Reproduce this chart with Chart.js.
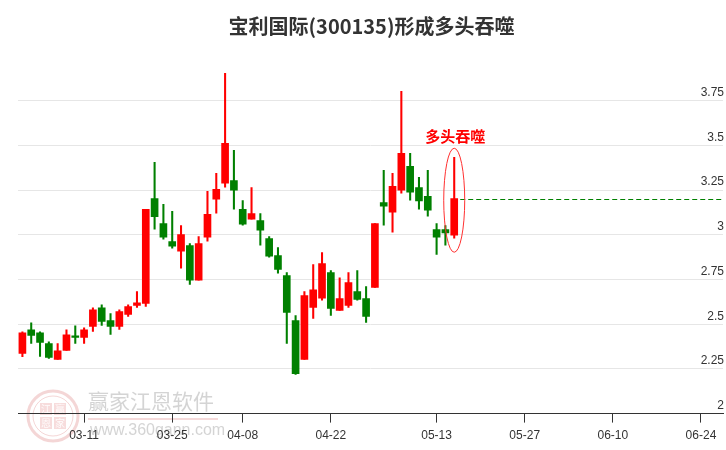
<!DOCTYPE html>
<html>
<head>
<meta charset="utf-8">
<script src="https://cdn.jsdelivr.net/npm/chart.js@4.4.0/dist/chart.umd.min.js"></script>
<style>
  html, body { margin: 0; padding: 0; background: #fff; }
  #wrap { width: 726px; height: 450px; }
</style>
</head>
<body>
<div id="wrap"><canvas id="kChart" width="726" height="450"></canvas></div>
<script>
// trading days (the last part is the empty future range of the axis)
const dates = [
    '02-29', '03-01', '03-04', '03-05', '03-06', '03-07', '03-08', '03-11', '03-12', '03-13',
    '03-14', '03-15', '03-18', '03-19', '03-20', '03-21', '03-22', '03-25', '03-26', '03-27',
    '03-28', '03-29', '04-01', '04-02', '04-03', '04-08', '04-09', '04-10', '04-11', '04-12',
    '04-15', '04-16', '04-17', '04-18', '04-19', '04-22', '04-23', '04-24', '04-25', '04-26',
    '04-29', '04-30', '05-06', '05-07', '05-08', '05-09', '05-10', '05-13', '05-14', '05-15',
    '05-16', '05-17', '05-20', '05-21', '05-22', '05-23', '05-24', '05-27', '05-28', '05-29',
    '05-30', '05-31', '06-03', '06-04', '06-05', '06-06', '06-07', '06-10', '06-11', '06-12',
    '06-13', '06-14', '06-17', '06-18', '06-19', '06-20', '06-21', '06-24', '06-25', '06-26'
];
const tickLabels = ['03-11', '03-25', '04-08', '04-22', '05-13', '05-27', '06-10', '06-24'];

const openVals = [
    2.336, 2.469, 2.452, 2.391, 2.303, 2.353, 2.430, 2.426, 2.488, 2.592,
    2.520, 2.488, 2.555, 2.605, 2.617, 3.203, 3.063, 2.962, 2.908, 2.940,
    2.746, 2.987, 3.200, 3.289, 3.304, 3.142, 3.088, 3.080, 2.979, 2.884,
    2.772, 2.520, 2.303, 2.594, 2.645, 2.789, 2.577, 2.605, 2.682, 2.643,
    2.706, 3.181, 3.127, 3.250, 3.383, 3.265, 3.215, 3.030, 3.030, 2.998
];
const highVals = [
    2.458, 2.508, 2.458, 2.402, 2.391, 2.469, 2.491, 2.480, 2.592, 2.609,
    2.559, 2.581, 2.609, 2.682, 3.142, 3.405, 3.170, 3.131, 3.052, 2.951,
    2.990, 3.243, 3.344, 3.904, 3.472, 3.192, 3.265, 3.119, 2.990, 2.929,
    2.789, 2.548, 2.682, 2.833, 2.901, 2.800, 2.760, 2.789, 2.800, 2.710,
    3.063, 3.361, 3.344, 3.803, 3.456, 3.321, 3.361, 3.063, 3.052, 3.434
];
const lowVals = [
    2.319, 2.392, 2.320, 2.308, 2.303, 2.353, 2.392, 2.392, 2.460, 2.493,
    2.443, 2.471, 2.544, 2.594, 2.600, 3.031, 2.976, 2.925, 2.813, 2.723,
    2.746, 2.965, 3.121, 3.267, 3.144, 3.054, 3.088, 2.942, 2.875, 2.785,
    2.392, 2.219, 2.303, 2.533, 2.634, 2.549, 2.577, 2.594, 2.634, 2.510,
    2.706, 3.054, 3.015, 3.233, 3.194, 3.144, 3.105, 2.891, 2.942, 2.981
];
const closeVals = [
    2.452, 2.437, 2.398, 2.314, 2.351, 2.441, 2.426, 2.469, 2.581, 2.516,
    2.488, 2.570, 2.598, 2.620, 3.142, 3.101, 2.987, 2.936, 3.002, 2.746,
    2.951, 3.114, 3.254, 3.512, 3.250, 3.060, 3.119, 3.026, 2.880, 2.807,
    2.566, 2.224, 2.660, 2.693, 2.839, 2.589, 2.643, 2.733, 2.639, 2.544,
    3.063, 3.161, 3.271, 3.456, 3.239, 3.189, 3.138, 2.987, 3.011, 3.203
];

const n = openVals.length;
const bodyData = dates.map((d, i) => i < n ? [openVals[i], closeVals[i]] : null);
const wickData = dates.map((d, i) => i < n ? [lowVals[i], highVals[i]] : null);
const candleColor = ctx => closeVals[ctx.dataIndex] >= openVals[ctx.dataIndex] ? '#ff0000' : '#008000';

function drawWatermark(ctx) {
    ctx.save();
    // round logo
    ctx.strokeStyle = 'rgba(220, 120, 120, 0.30)';
    ctx.lineWidth = 3;
    ctx.beginPath();
    ctx.arc(53, 416, 25, 0, Math.PI * 2);
    ctx.stroke();
    ctx.lineWidth = 1;
    ctx.beginPath();
    ctx.arc(53, 416, 20, 0, Math.PI * 2);
    ctx.stroke();
    ctx.fillStyle = 'rgba(225, 130, 130, 0.28)';
    ctx.fillRect(40, 403, 12, 12);
    ctx.fillRect(54, 403, 12, 12);
    ctx.fillRect(40, 417, 12, 12);
    ctx.fillRect(54, 417, 12, 12);
    ctx.fillStyle = 'rgba(255, 255, 255, 0.9)';
    ctx.font = '10px "Noto Sans CJK SC"';
    ctx.textAlign = 'center';
    ctx.textBaseline = 'middle';
    ctx.fillText('江', 46, 409);
    ctx.fillText('赢', 60, 409);
    ctx.fillText('恩', 46, 423);
    ctx.fillText('家', 60, 423);
    // name and site
    ctx.fillStyle = 'rgba(170, 170, 170, 0.5)';
    ctx.font = '21px "Noto Sans CJK SC"';
    ctx.textAlign = 'left';
    ctx.fillText('赢家江恩软件', 88, 401);
    ctx.fillStyle = 'rgba(225, 150, 150, 0.35)';
    ctx.fillRect(88, 418, 130, 2);
    ctx.fillStyle = 'rgba(170, 170, 170, 0.5)';
    ctx.font = '16px "Liberation Sans"';
    ctx.fillText('www.360gann.com', 90, 431);
    ctx.restore();
}

const overlayPlugin = {
    id: 'overlay',
    beforeDraw(chart) {
        drawWatermark(chart.ctx);
    },
    afterDatasetsDraw(chart) {
        const { ctx, chartArea, scales: { x, y } } = chart;
        const last = n - 1;
        const cx = x.getPixelForValue(last);
        const yc = Math.round(y.getPixelForValue(closeVals[last])) + 0.5;

        ctx.save();
        // close level line
        ctx.strokeStyle = '#008000';
        ctx.lineWidth = 1;
        ctx.setLineDash([5, 3]);
        ctx.beginPath();
        ctx.moveTo(cx + 6, yc);
        ctx.lineTo(chartArea.right, yc);
        ctx.stroke();

        // ring round the engulfing candle
        const top = y.getPixelForValue(highVals[last]) - 9;
        const bot = y.getPixelForValue(lowVals[last]) + 14;
        ctx.setLineDash([]);
        ctx.strokeStyle = '#ff3030';
        ctx.lineWidth = 1;
        ctx.beginPath();
        ctx.ellipse(cx, (top + bot) / 2, 10.5, (bot - top) / 2, 0, 0, Math.PI * 2);
        ctx.stroke();

        ctx.fillStyle = '#ff0000';
        ctx.font = 'bold 15px "Noto Sans CJK SC"';
        ctx.textAlign = 'center';
        ctx.textBaseline = 'middle';
        ctx.fillText('多头吞噬', cx + 1, top - 12);
        ctx.restore();
    }
};

new Chart(document.getElementById('kChart'), {
    type: 'bar',
    data: {
        labels: dates,
        datasets: [
            {
                label: 'wick',
                data: wickData,
                backgroundColor: candleColor,
                barThickness: 1.4,
                grouped: false,
                order: 2
            },
            {
                label: 'body',
                data: bodyData,
                backgroundColor: candleColor,
                barThickness: 7,
                minBarLength: 1.5,
                grouped: false,
                order: 1
            }
        ]
    },
    options: {
        responsive: false,
        animation: false,
        devicePixelRatio: 1,
        layout: { padding: { left: 18, right: 1, top: 0, bottom: 1 } },
        plugins: {
            legend: { display: false },
            tooltip: { enabled: false },
            title: {
                display: true,
                text: '宝利国际(300135)形成多头吞噬',
                color: '#333333',
                font: { size: 20, weight: 'bold', family: '"Noto Sans CJK SC"' },
                padding: { top: 14, bottom: 27 }
            }
        },
        scales: {
            x: {
                type: 'category',
                offset: true,
                grid: {
                    display: true,
                    offset: false,
                    drawOnChartArea: false,
                    drawTicks: true,
                    tickLength: 9,
                    color: '#333333'
                },
                border: { color: '#333333' },
                ticks: {
                    autoSkip: false,
                    maxRotation: 0,
                    padding: 6,
                    color: '#333333',
                    font: { size: 12, family: '"Liberation Sans"' }
                },
                afterBuildTicks: scale => {
                    scale.ticks = scale.ticks.filter(t => tickLabels.includes(dates[t.value]));
                }
            },
            y: {
                position: 'right',
                min: 2,
                max: 3.95,
                grid: { color: '#e6e6e6', drawTicks: false },
                border: { display: false },
                ticks: {
                    stepSize: 0.25,
                    includeBounds: false,
                    mirror: true,
                    padding: 1,
                    labelOffset: -8,
                    color: '#333333',
                    font: { size: 12, family: '"Liberation Sans"' },
                    callback: v => Number(v.toFixed(2)).toString()
                }
            }
        }
    },
    plugins: [overlayPlugin]
});
</script>
</body>
</html>
